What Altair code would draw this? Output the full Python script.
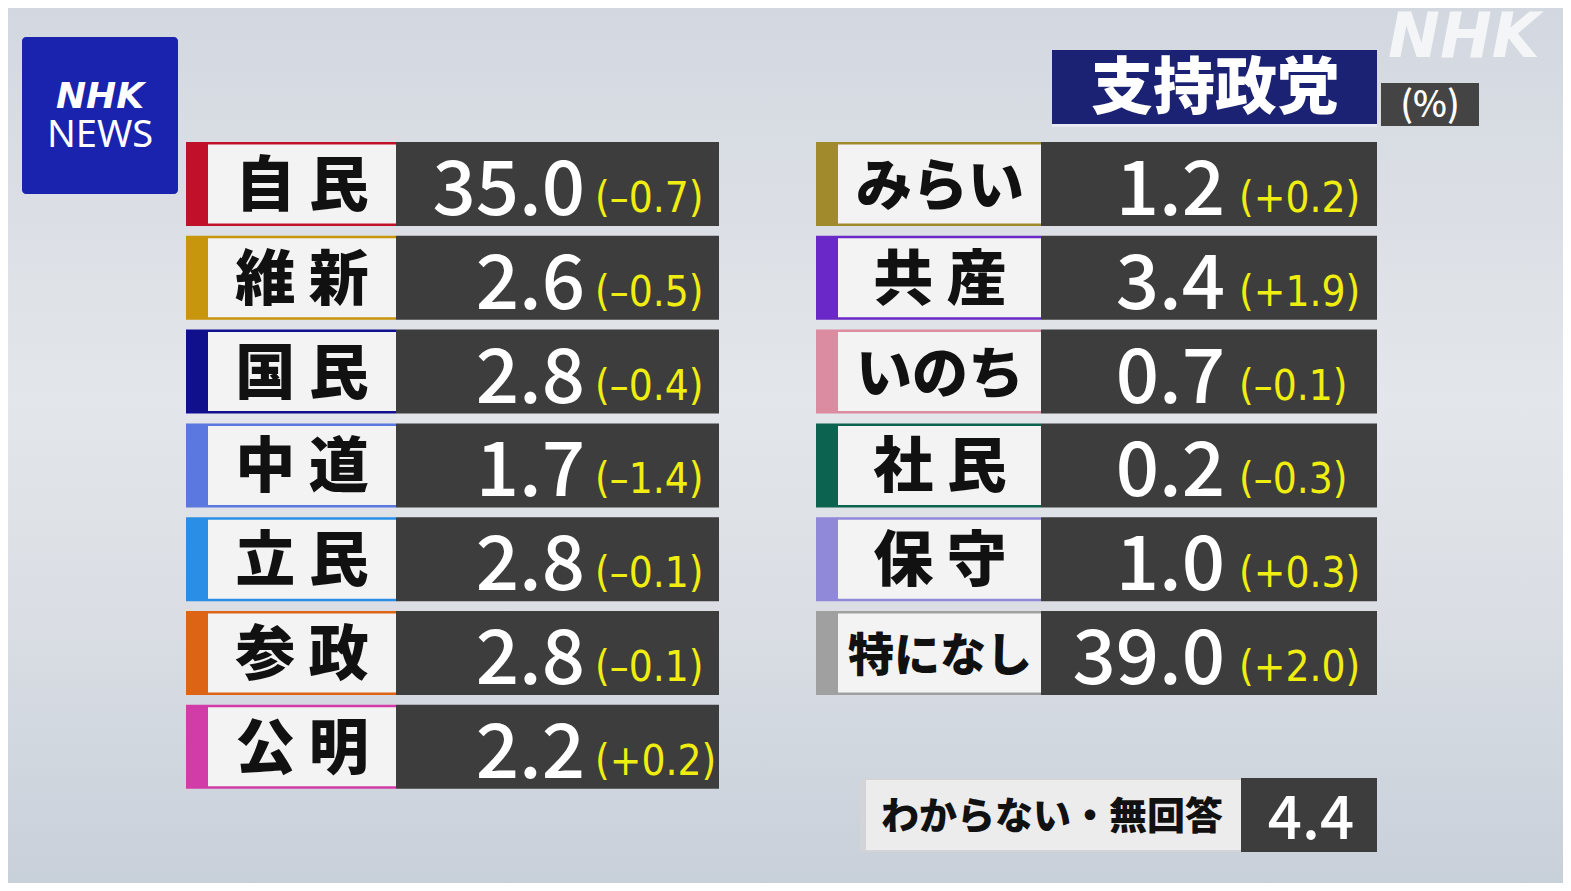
import altair as alt
import pandas as pd

# party support (%), change from previous poll in brackets
left_parties = ["自民", "維新", "国民", "中道", "立民", "参政", "公明"]
left_values = [35.0, 2.6, 2.8, 1.7, 2.8, 2.8, 2.2]
left_changes = [-0.7, -0.5, -0.4, -1.4, -0.1, -0.1, 0.2]
left_colors = ["#c0102a", "#c8960c", "#10108c", "#5b78e0", "#2a8ee6", "#dc6414", "#d23ca8"]

right_parties = ["みらい", "共産", "いのち", "社民", "保守", "特になし"]
right_values = [1.2, 3.4, 0.7, 0.2, 1.0, 39.0]
right_changes = [0.2, 1.9, -0.1, -0.3, 0.3, 2.0]
right_colors = ["#a08a2c", "#6a28c8", "#dc8ca0", "#0c6450", "#9088d8", "#a0a0a0"]

unknown_label = "わからない・無回答"
unknown_value = 4.4

title_text = "支持政党"
unit_text = "(%)"

JP = "Noto Sans CJK JP"
NUM = "Noto Sans CJK JP"
NARROW = "DejaVu Sans Condensed, Roboto, sans-serif"

W, H = 1555, 875
xs = alt.Scale(domain=[8, 8 + W], range=[0, W], nice=False, zero=False)
ys = alt.Scale(domain=[8, 8 + H], range=[0, H], nice=False, zero=False)


def X(f):
    return alt.X(f, type="quantitative", scale=xs, axis=None)


def Y(f):
    return alt.Y(f, type="quantitative", scale=ys, axis=None)


# column layout: colour strip, white name plate, dark value plate
ROW_TOP, ROW_STEP, ROW_H = 142, 93.8, 84
columns = {
    "L": dict(strip=186, plate=208, dark=396, end=719, name_c=302, val_r=585, chg_l=595),
    "R": dict(strip=816, plate=838, dark=1041, end=1377, name_c=940, val_r=1225, chg_l=1239),
}


def fmt_change(c):
    return "(" + ("+" if c >= 0 else "–") + f"{abs(c):.1f})"


def fmt_name(n):
    return " ".join(n) if len(n) == 2 else n


rows = []
for col, parties, vals, chgs, cols in [
    ("L", left_parties, left_values, left_changes, left_colors),
    ("R", right_parties, right_values, right_changes, right_colors),
]:
    g = columns[col]
    for i, (p, v, c, colr) in enumerate(zip(parties, vals, chgs, cols)):
        top = ROW_TOP + i * ROW_STEP
        rows.append(dict(
            party=p, name=fmt_name(p), value=f"{v:.1f}", change=fmt_change(c), color=colr,
            top=top, bottom=top + ROW_H, ptop=top + 2.5, pbot=top + ROW_H - 2.5,
            strip=g["strip"], plate=g["plate"], dark=g["dark"], end=g["end"],
            name_c=g["name_c"], name_y=top + 46, val_r=g["val_r"], val_y=top + 73,
            chg_l=g["chg_l"], chg_y=top + 70,
            name_size=60 if len(p) == 2 else (56 if len(p) == 3 else 46),
        ))
df = pd.DataFrame(rows)

bg_df = pd.DataFrame([{"x": 8, "x2": 8 + W, "y": 8, "y2": 8 + H}])
background = alt.Chart(bg_df).mark_rect(
    color=alt.Gradient(
        gradient="linear", x1=0, x2=0, y1=0, y2=1,
        stops=[
            alt.GradientStop(offset=0, color="#d3d8e0"),
            alt.GradientStop(offset=0.45, color="#e3e6ea"),
            alt.GradientStop(offset=0.7, color="#dadee4"),
            alt.GradientStop(offset=1, color="#c8d0da"),
        ],
    )
).encode(x=X("x"), x2="x2", y=Y("y"), y2="y2")

base = alt.Chart(df)
strips = base.mark_rect().encode(
    x=X("strip"), x2="dark", y=Y("top"), y2="bottom",
    color=alt.Color("color:N", scale=None),
)
plates = base.mark_rect(color="#f3f3f3").encode(x=X("plate"), x2="dark", y=Y("ptop"), y2="pbot")
darks = base.mark_rect(color="#3d3d3d").encode(x=X("dark"), x2="end", y=Y("top"), y2="bottom")
names = base.mark_text(font=JP, fontWeight=900, color="#111111", baseline="middle").encode(
    x=X("name_c"), y=Y("name_y"), text="name:N", size=alt.Size("name_size:Q", scale=None)
)
values = base.mark_text(font=NUM, fontSize=76, fontWeight=500, color="white", align="right",
                        baseline="alphabetic").encode(x=X("val_r"), y=Y("val_y"), text="value:N")
changes = base.mark_text(font=NARROW, fontSize=42, color="#f0ee10", align="left",
                         baseline="alphabetic").encode(x=X("chg_l"), y=Y("chg_y"), text="change:N")

# "don't know / no answer" row
unk_df = pd.DataFrame([{
    "x": 860, "xi": 866, "xd": 1241, "xe": 1377, "y": 778, "yi": 780, "y2": 852, "yi2": 850,
    "label": unknown_label, "lx": 1052, "ly": 818, "value": f"{unknown_value:.1f}", "vx": 1311, "vy": 839,
}])
unk = alt.Chart(unk_df)
unk_layers = [
    unk.mark_rect(color="#d2d4d7").encode(x=X("x"), x2="xd", y=Y("y"), y2="y2"),
    unk.mark_rect(color="#ececec").encode(x=X("xi"), x2="xd", y=Y("yi"), y2="yi2"),
    unk.mark_rect(color="#3d3d3d").encode(x=X("xd"), x2="xe", y=Y("y"), y2="y2"),
    unk.mark_text(font=JP, fontWeight=900, fontSize=38, color="#111111", baseline="middle").encode(
        x=X("lx"), y=Y("ly"), text="label:N"),
    unk.mark_text(font=NUM, fontSize=60, fontWeight=500, color="white", baseline="alphabetic").encode(
        x=X("vx"), y=Y("vy"), text="value:N"),
]

# header: title plate and unit box
hdr_df = pd.DataFrame([{
    "tx": 1052, "tx2": 1377, "ty": 50, "ty2": 124, "lx2": 1377, "ly": 124, "ly2": 127,
    "ux": 1381, "ux2": 1479, "uy": 83, "uy2": 126,
    "title": title_text, "tcx": 1215, "tcy": 90, "unit": unit_text, "ucx": 1430, "ucy": 106,
}])
hdr = alt.Chart(hdr_df)
hdr_layers = [
    hdr.mark_rect(color="#1b2173").encode(x=X("tx"), x2="tx2", y=Y("ty"), y2="ty2"),
    hdr.mark_rect(color="#e8eaf2").encode(x=X("tx"), x2="lx2", y=Y("ly"), y2="ly2"),
    hdr.mark_rect(color="#444444").encode(x=X("ux"), x2="ux2", y=Y("uy"), y2="uy2"),
    hdr.mark_text(font=JP, fontWeight=900, fontSize=62, color="white", baseline="middle").encode(
        x=X("tcx"), y=Y("tcy"), text="title:N"),
    hdr.mark_text(font=NUM, fontSize=36, fontWeight=500, color="white", baseline="middle").encode(
        x=X("ucx"), y=Y("ucy"), text="unit:N"),
]

# NHK NEWS logo and watermark
logo_df = pd.DataFrame([{
    "x": 22, "x2": 178, "y": 37, "y2": 194, "cx": 100, "ny": 97, "wy": 136,
    "nhk": "NHK", "news": "NEWS", "mx": 1464, "my": 38,
}])
logo = alt.Chart(logo_df)
logo_layers = [
    logo.mark_rect(color="#1923ad", cornerRadius=4).encode(x=X("x"), x2="x2", y=Y("y"), y2="y2"),
    logo.mark_text(font="DejaVu Sans", fontWeight="bold", fontStyle="italic", fontSize=36,
                   color="white", baseline="middle").encode(x=X("cx"), y=Y("ny"), text="nhk:N"),
    logo.mark_text(font="Noto Sans", fontSize=38, color="white", baseline="middle").encode(
        x=X("cx"), y=Y("wy"), text="news:N"),
    logo.mark_text(font="DejaVu Sans", fontWeight="bold", fontStyle="italic", fontSize=62,
                   color="white", opacity=0.75, baseline="middle").encode(
        x=X("mx"), y=Y("my"), text="nhk:N"),
]

chart = alt.layer(
    background, strips, plates, darks, names, values, changes,
    *unk_layers, *hdr_layers, *logo_layers,
).properties(
    width=W, height=H, autosize=alt.AutoSizeParams(type="none"), padding=0
).configure_view(strokeWidth=0)

chart.save("out.html", embed_options={"renderer": "svg", "actions": False})
